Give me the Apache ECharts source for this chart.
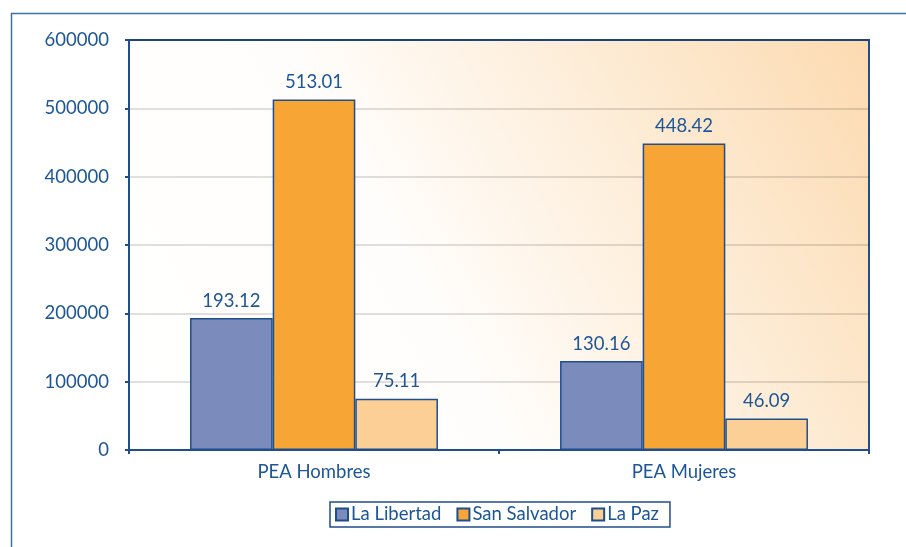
<!DOCTYPE html>
<html><head><meta charset="utf-8">
<script src="https://cdn.jsdelivr.net/npm/echarts@6/dist/echarts.min.js"></script>
<style>html,body{margin:0;padding:0;background:#fff}#c{width:906px;height:547px}</style>
</head><body><div id="c"></div>
<script>
const categories = ['PEA Hombres', 'PEA Mujeres'];
const seriesNames = ['La Libertad', 'San Salvador', 'La Paz'];
const laLibertad = [193120, 130160];
const sanSalvador = [513010, 448420];
const laPaz = [75110, 46090];
const yTicks = [0, 100000, 200000, 300000, 400000, 500000, 600000];

const textColor = '#1d5696';
const edge = '#1f4e8c';
const font = 'Lato';
const fs = 18.5;
const colors = ['#7b8cbc', '#f7a535', '#fbcf95'];
const values = [laLibertad, sanSalvador, laPaz];

const chart = echarts.init(document.getElementById('c'), null, {renderer: 'canvas'});
chart.setOption({
  animation: false,
  graphic: [{
    type: 'rect', left: 9, top: 11, z: -10, silent: true,
    shape: {width: 1000, height: 600},
    style: {fill: 'none', stroke: '#3c6fae', lineWidth: 1.5}
  }],
  grid: {
    left: 129, right: 37, top: 40, bottom: 97,
    show: true, borderColor: edge, borderWidth: 2,
    backgroundColor: new echarts.graphic.LinearGradient(0, 1, 1, 0, [
      {offset: 0, color: '#ffffff'},
      {offset: 0.4, color: '#fffdfb'},
      {offset: 0.7, color: '#fdecd6'},
      {offset: 1, color: '#fcdab0'}
    ])
  },
  legend: {
    data: seriesNames, bottom: 20, left: 330,
    icon: 'rect', itemWidth: 12, itemHeight: 12, itemGap: 15,
    borderColor: edge, borderWidth: 1.5, padding: [3, 11, 3, 5],
    textStyle: {color: textColor, fontFamily: font, fontSize: fs, padding: [0, 0, 0, -2]}
  },
  xAxis: {
    type: 'category', data: categories,
    axisLine: {lineStyle: {color: edge, width: 2}},
    axisTick: {show: true, length: 4, lineStyle: {color: edge, width: 2}},
    axisLabel: {color: textColor, fontFamily: font, fontSize: fs, margin: 13}
  },
  yAxis: {
    type: 'value', min: 0, max: 600000, interval: 100000,
    axisLine: {show: true, lineStyle: {color: edge, width: 2}},
    axisTick: {show: true, length: 4, lineStyle: {color: edge, width: 2}},
    axisLabel: {color: textColor, fontFamily: font, fontSize: fs, margin: 20,
      formatter: v => yTicks.includes(v) ? String(v) : ''},
    splitLine: {show: true, lineStyle: {color: 'rgba(0,0,0,0.12)', width: 2}}
  },
  series: seriesNames.map((n, i) => ({
    name: n, type: 'bar', data: values[i],
    barGap: '0%', barCategoryGap: '33%',
    itemStyle: {color: colors[i], borderColor: edge, borderWidth: 1.5},
    label: {show: true, position: 'top', distance: 8, color: textColor,
      fontFamily: font, fontSize: fs,
      formatter: p => (p.value / 1000).toFixed(2)}
  }))
});
</script></body></html>
